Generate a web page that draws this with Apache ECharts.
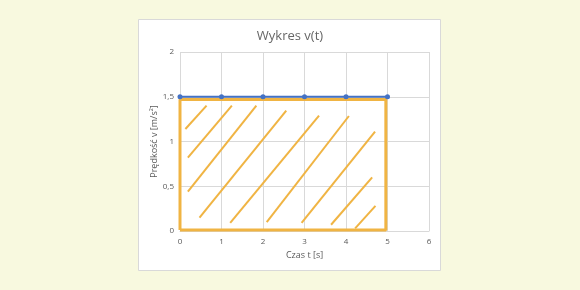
<!DOCTYPE html>
<html><head><meta charset="utf-8">
<script src="https://cdn.jsdelivr.net/npm/echarts@6/dist/echarts.min.js"></script>
<style>html,body{margin:0;padding:0;background:#f8f9df;}#c{width:580px;height:290px;}</style>
</head><body><div id="c"></div>
<script>
const times = [0, 1, 2, 3, 4, 5];
const speeds = [1.5, 1.5, 1.5, 1.5, 1.5, 1.5];
const xTicks = [0, 1, 2, 3, 4, 5, 6];
const yTicks = [0, 0.5, 1, 1.5, 2];
const areaBox = [[0, 0.01], [4.96, 0.01], [4.96, 1.47], [0, 1.47], [0, 0.01]];
const hatchStarts = [[0.13, 1.14], [0.19, 0.82], [0.19, 0.44], [0.47, 0.15], [1.21, 0.09], [2.09, 0.10], [2.93, 0.09], [3.64, 0.07], [4.22, 0.03]];
const hatchEnds = [[0.64, 1.40], [1.25, 1.40], [1.84, 1.40], [2.56, 1.345], [3.35, 1.29], [4.07, 1.285], [4.70, 1.11], [4.63, 0.60], [4.71, 0.28]];

const fmt = v => String(v).replace('.', ',');
const chart = echarts.init(document.getElementById('c'));
chart.setOption({
  backgroundColor: 'transparent',
  animation: false,
  graphic: [{type: 'rect', shape: {x: 138.5, y: 19.5, width: 302, height: 251}, style: {fill: '#ffffff', stroke: '#d9d9d9', lineWidth: 1}, z: -10}],
  title: {text: 'Wykres v(t)', left: 'center', top: 25, textStyle: {fontFamily: 'Open Sans', fontSize: 13, fontWeight: 'normal', color: '#666666'}},
  grid: {left: 180, right: 151, top: 52, bottom: 59},
  xAxis: {type: 'value', min: 0, max: 6, interval: 1,
    name: 'Czas t [s]', nameLocation: 'middle', nameGap: 18,
    nameTextStyle: {fontFamily: 'Open Sans', fontSize: 9, color: '#595959'},
    axisLine: {show: true, lineStyle: {color: '#d9d9d9'}}, axisTick: {show: false},
    axisLabel: {fontFamily: 'Open Sans', fontSize: 8, color: '#595959', margin: 7, formatter: fmt},
    splitLine: {show: true, lineStyle: {color: '#d9d9d9'}}},
  yAxis: {type: 'value', min: 0, max: 2, interval: 0.5,
    name: 'Prędkość v [m/s²]', nameLocation: 'middle', nameGap: 18,
    nameTextStyle: {fontFamily: 'Open Sans', fontSize: 9, color: '#595959'},
    axisLine: {show: false}, axisTick: {show: false},
    axisLabel: {fontFamily: 'Open Sans', fontSize: 8, color: '#595959', margin: 6, formatter: fmt},
    splitLine: {show: true, lineStyle: {color: '#d9d9d9'}}},
  series: [
    {type: 'lines', coordinateSystem: 'cartesian2d', silent: true,
      lineStyle: {color: '#f0b443', width: 2, opacity: 1},
      data: hatchStarts.map((s, i) => ({coords: [s, hatchEnds[i]]})), z: 2},
    {type: 'line', data: areaBox, symbol: 'none', lineStyle: {color: '#f0b443', width: 3}, z: 3},
    {type: 'line', data: times.map((t, i) => [t, speeds[i]]), symbol: 'circle', symbolSize: 5,
      itemStyle: {color: '#4472c4'}, lineStyle: {color: '#4472c4', width: 2}, z: 4}
  ]
});
</script></body></html>
